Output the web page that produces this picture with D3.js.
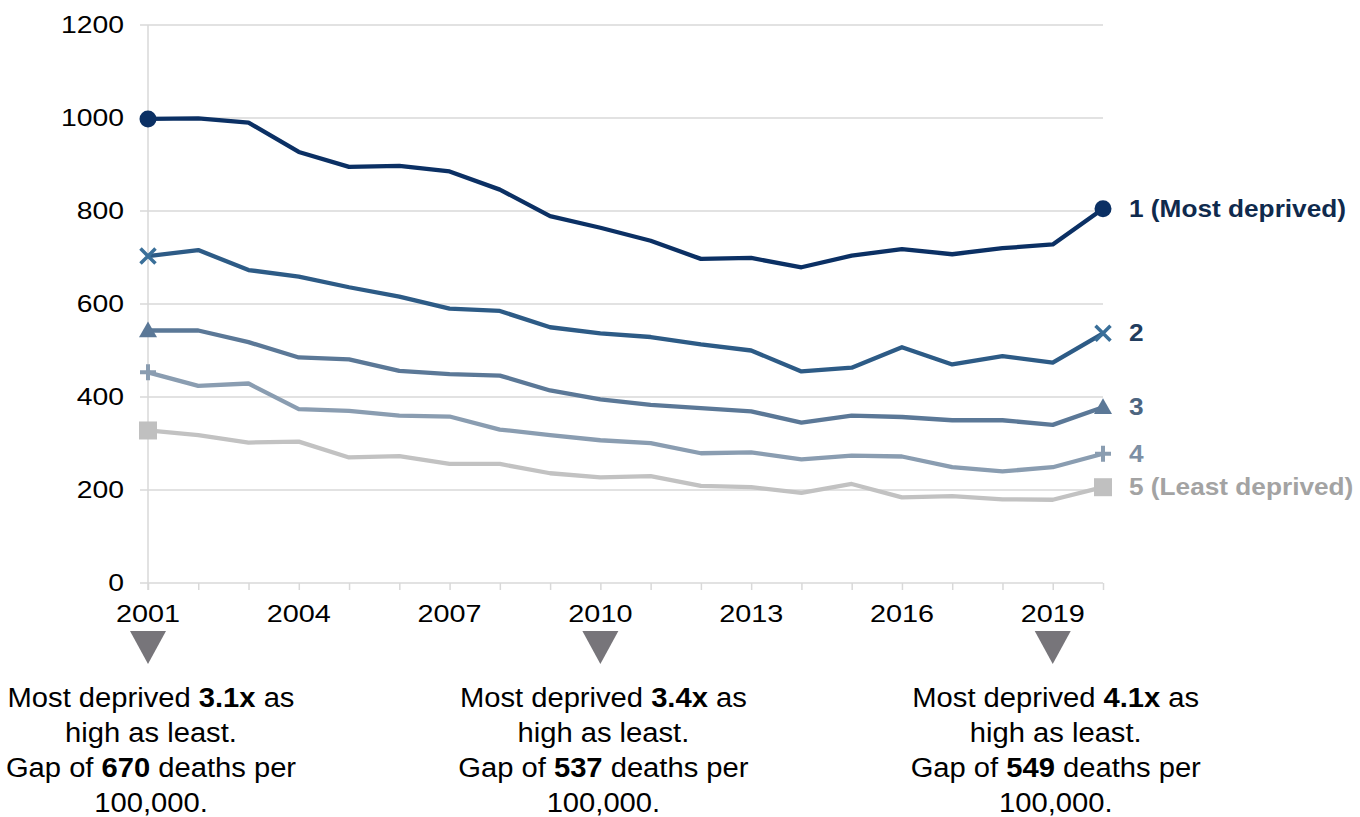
<!DOCTYPE html>
<html><head><meta charset="utf-8">
<script src="https://cdn.jsdelivr.net/npm/d3@7"></script>
<style>body{margin:0;background:#fff;}svg{display:block;font-family:"Liberation Sans",Arial,sans-serif;}</style>
</head><body><svg id="c" width="1360" height="817"></svg>
<script>
const years = d3.range(2001, 2021);
const series1 = [998,999,990,927,895,897,885,846,789,764,736,697,699,679,704,718,707,720,728,805];
const series2 = [703,716,673,659,636,616,590,585,550,537,529,513,500,455,463,507,470,488,474,537];
const series3 = [543,543,518,485,481,456,449,446,414,395,383,376,369,345,360,357,350,350,340,378];
const series4 = [453,424,429,374,370,360,358,330,318,307,301,279,281,266,274,272,249,240,249,278];
const series5 = [328,318,302,304,270,273,256,256,236,227,230,209,206,194,213,184,187,180,179,206];
const seriesLabels = ["1 (Most deprived)","2","3","4","5 (Least deprived)"];
const seriesColors = ["#0b3064","#2d5b86","#5b7897","#8a9db1","#c2c2c2"];
const markerColors = ["#0b3064","#3a6f99","#5b7897","#8a9db1","#c0c0c0"];
const labelColors = ["#0f2a4d","#223d5e","#4d6580","#7d8fa4","#a3a3a3"];
const markerTypes = ["circle","x","triangle","plus","square"];
const yTicks = [0,200,400,600,800,1000,1200];
const xTickLabels = [2001,2004,2007,2010,2013,2016,2019];
const annoYears = [2001,2010,2019];
const annoRatios = ["3.1x","3.4x","4.1x"];
const annoGaps = ["670","537","549"];

const allSeries = [series1,series2,series3,series4,series5];
const svg = d3.select("#c");
const x = d3.scaleLinear().domain([2001,2020]).range([148,1103]);
const y = d3.scaleLinear().domain([0,1200]).range([583,25]);

// gridlines
svg.append("g").selectAll("line").data(yTicks.filter(d=>d>0)).join("line")
  .attr("x1",140).attr("x2",x(2020)).attr("y1",d=>y(d)).attr("y2",d=>y(d))
  .attr("stroke","#d9d9d9").attr("stroke-width",1.5);
// y axis line
svg.append("line").attr("x1",x(2001)).attr("x2",x(2001)).attr("y1",y(1200)).attr("y2",y(0)+7)
  .attr("stroke","#d9d9d9").attr("stroke-width",1.5);
// x axis
const xAxis = d3.axisBottom(x).tickValues(years).tickSize(7).tickFormat("");
const gx = svg.append("g").attr("transform",`translate(0,${y(0)})`).call(xAxis);
gx.select(".domain").attr("stroke","#d9d9d9").attr("stroke-width",1.5).attr("d",`M${x(2001)-8},0H${x(2020)}`);
gx.selectAll(".tick line").attr("stroke","#d9d9d9").attr("stroke-width",1.5);

const sx = 1.18;
// y labels
svg.append("g").selectAll("text").data(yTicks).join("text")
  .attr("transform",d=>`translate(124,${y(d)}) scale(${sx},1)`)
  .attr("text-anchor","end").attr("dy","0.35em")
  .style("font-size","24px").attr("fill","#000").text(d=>d);
// x labels
svg.append("g").selectAll("text").data(xTickLabels).join("text")
  .attr("transform",d=>`translate(${x(d)},${614}) scale(1.2,1)`)
  .attr("text-anchor","middle").attr("dy","0.35em")
  .style("font-size","24px").attr("fill","#000").text(d=>d);

// lines
const line = d3.line().x((d,i)=>x(years[i])).y(d=>y(d));
svg.append("g").selectAll("path").data(allSeries.slice().reverse()).join("path")
  .attr("d",line).attr("fill","none")
  .attr("stroke",(d,i)=>seriesColors[4-i]).attr("stroke-width",4.3).attr("stroke-linejoin","round");

// markers
function drawMarker(g, type, cx, cy, col){
  if(type==="circle"){
    g.append("circle").attr("cx",cx).attr("cy",cy).attr("r",8.5).attr("fill",col);
  } else if(type==="x"){
    const s=7.5;
    g.append("path").attr("d",`M${cx-s},${cy-s}L${cx+s},${cy+s}M${cx-s},${cy+s}L${cx+s},${cy-s}`)
      .attr("stroke",col).attr("stroke-width",3.5).attr("fill","none");
  } else if(type==="triangle"){
    const s=9;
    g.append("path").attr("d",`M${cx},${cy-s}L${cx+s},${cy+s*0.75}L${cx-s},${cy+s*0.75}Z`).attr("fill",col);
  } else if(type==="plus"){
    const s=8;
    g.append("path").attr("d",`M${cx-s},${cy}L${cx+s},${cy}M${cx},${cy-s}L${cx},${cy+s}`)
      .attr("stroke",col).attr("stroke-width",4).attr("fill","none");
  } else if(type==="square"){
    const s=9;
    g.append("rect").attr("x",cx-s).attr("y",cy-s).attr("width",2*s).attr("height",2*s).attr("fill",col);
  }
}
const mg = svg.append("g");
allSeries.forEach((s,i)=>{
  [0, s.length-1].forEach(j=>{
    drawMarker(mg, markerTypes[i], x(years[j]), y(s[j]), markerColors[i]);
  });
});

// right labels
svg.append("g").selectAll("text").data(seriesLabels).join("text")
  .attr("transform",(d,i)=>`translate(${x(2020)+26},${y(allSeries[i][19])}) scale(1.14,1)`)
  .attr("dy","0.35em").style("font-size","23px").style("font-weight","bold")
  .attr("fill",(d,i)=>labelColors[i]).text(d=>d);

// annotation triangles
svg.append("g").selectAll("path").data(annoYears).join("path")
  .attr("d",d=>`M${x(d)-18},631L${x(d)+18},631L${x(d)},664Z`).attr("fill","#77757a");

// annotation texts
const ag = svg.append("g");
annoYears.forEach((yr,i)=>{
  const cx = x(yr)+3;
  const lines = [
    [["Most deprived ",false],[annoRatios[i],true],[" as",false]],
    [["high as least.",false]],
    [["Gap of ",false],[annoGaps[i],true],[" deaths per",false]],
    [["100,000.",false]]
  ];
  lines.forEach((parts,k)=>{
    const t = ag.append("text").attr("transform",`translate(${cx},${698+k*35}) scale(1.08,1)`)
      .attr("text-anchor","middle").attr("dy","0.35em").style("font-size","27px").attr("fill","#000");
    parts.forEach(p=>t.append("tspan").style("font-weight",p[1]?"bold":"normal").text(p[0]));
  });
});
</script></body></html>
